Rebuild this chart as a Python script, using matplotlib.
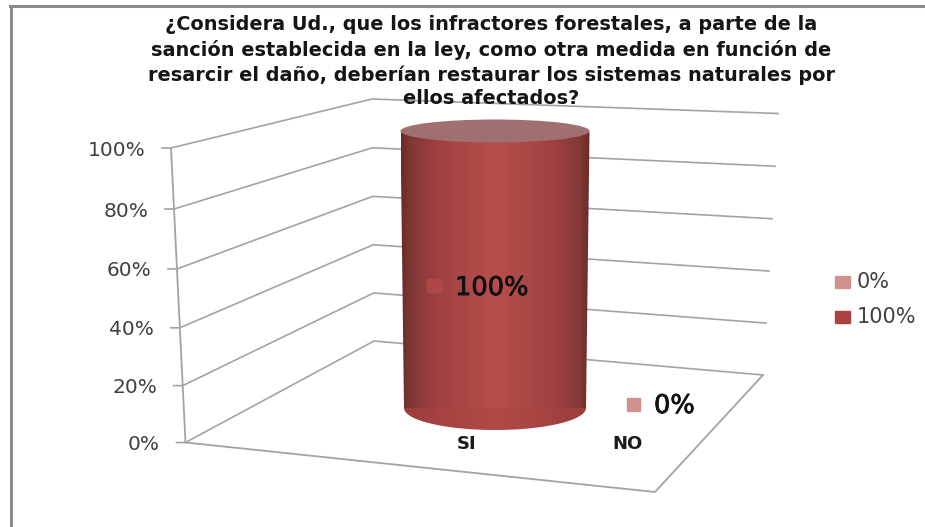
import numpy as np
import matplotlib
matplotlib.use('Agg')
import matplotlib.pyplot as plt
import matplotlib.patheffects as pe
from matplotlib.colors import LinearSegmentedColormap
from matplotlib.patches import Ellipse, PathPatch, Rectangle
from matplotlib.path import Path

categorias = ['SI', 'NO']
valores = [100, 0]
ticks = [0, 20, 40, 60, 80, 100]
leyenda = ['0%', '100%']
titulo = ['¿Considera Ud., que los infractores forestales, a parte de la',
          'sanción establecida en la ley, como otra medida en función de',
          'resarcir el daño, deberían restaurar los sistemas naturales por',
          'ellos afectados?']

GRIS = '#a3a3a3'
OSCURO = '#a8423f'
CLARO = '#d09291'
FUENTE = 'DejaVu Sans'

fig = plt.figure(figsize=(9.25, 5.27), dpi=100)
ax = fig.add_axes([0, 0, 1, 1])
ax.set_xlim(0, 925)
ax.set_ylim(527, 0)
ax.axis('off')


# escala del eje con un poco de perspectiva
def esc(v, a, b, k=0.045):
    t = v / 100
    t = t / (1 + k * (1 - t))
    return a + (b - a) * t


def frente(v):
    return esc(v, 185.5, 171), esc(v, 442.5, 148)


def fondo(v):
    return esc(v, 374, 372, 0.01), esc(v, 341, 99, 0.01)


def derecha(v):
    return esc(v, 763, 778, 0.01), esc(v, 375, 113.5, 0.01)


# marco de la imagen
ax.plot([10.5, 10.5], [6, 527], color='#8c8c8c', lw=2.2)
ax.plot([10, 925], [6, 6], color='#8c8c8c', lw=2.2)

# paredes y rejilla
ax.plot([frente(100)[0], frente(0)[0]], [frente(100)[1], frente(0)[1]], color=GRIS, lw=1.3)
for t in ticks:
    x0, y0 = frente(t)
    x1, y1 = fondo(t)
    x2, y2 = derecha(t)
    ax.plot([x0 - 9, x0, x1, x2], [y0, y0, y1, y2], color=GRIS, lw=1.2)
    ax.text(x0 - 25.5, y0 + 2, f'{t}%', ha='right', va='center', fontsize=14.5,
            family=FUENTE, color='#404040')

# piso
x0, y0 = frente(0)
x2, y2 = derecha(0)
ax.plot([x0, 655, x2], [y0, 492, y2], color=GRIS, lw=1.3)

# cilindro (SI)
xc = 495
yb = 408
alto = 2.77 * valores[0]
yt = yb - alto
a_top, b_top = 94.5, 11.5
a_bot, b_bot = 91, 22

ang = np.linspace(0, np.pi, 60)
lado = PathPatch(Path(np.c_[[xc - a_top, xc - a_bot, xc + a_bot, xc + a_top], [yt + 1, yb, yb, yt + 1]]),
                 facecolor='none', edgecolor='none')
ax.add_patch(lado)
cmap = LinearSegmentedColormap.from_list('cil', [(0, '#642d2c'), (0.05, '#823836'), (0.2, '#9f4240'),
                                                 (0.5, '#b94f4c'), (0.82, '#9c413f'), (0.95, '#823836'),
                                                 (1, '#642d2c')])
img = ax.imshow(np.linspace(0, 1, 256)[None, :], cmap=cmap, aspect='auto',
                extent=[xc - a_top, xc + a_top, yb + 1, yt], zorder=3)
img.set_clip_path(lado)

# base del cilindro, con degradado más suave
base = PathPatch(Path(np.c_[xc + a_bot * np.cos(ang), yb + b_bot * np.sin(ang)]),
                 facecolor='none', edgecolor='none')
ax.add_patch(base)
cmap2 = LinearSegmentedColormap.from_list('base', ['#9a3e3c', '#b24a47', '#9a3e3c'])
img2 = ax.imshow(np.linspace(0, 1, 256)[None, :], cmap=cmap2, aspect='auto',
                 extent=[xc - a_bot, xc + a_bot, yb + b_bot, yb], zorder=3.5)
img2.set_clip_path(base)
ax.set_xlim(0, 925)
ax.set_ylim(527, 0)

ax.add_patch(Ellipse((xc, yt), 2 * a_top, 2 * b_top, facecolor='#a06f6f', edgecolor='none', zorder=4))

# etiquetas de datos
trazo = [pe.withStroke(linewidth=0.6, foreground='#111111')]
ax.add_patch(Rectangle((427, 279), 14, 13, color='#ad4846', zorder=5))
ax.text(455, 288, f'{valores[0]}%', fontsize=18.5, family=FUENTE, va='center',
        color='#111111', zorder=5, path_effects=trazo)
ax.add_patch(Rectangle((627, 398), 13, 13, color=CLARO, zorder=5))
ax.text(654, 406, f'{valores[1]}%', fontsize=18.5, family=FUENTE, va='center',
        color='#111111', zorder=5, path_effects=trazo)

# categorías
for x, c in zip([467, 627], categorias):
    ax.text(x, 444, c, ha='center', va='center', fontsize=13, family=FUENTE, weight='bold', color='#1a1a1a')

# leyenda
for y, lab, col in zip([282, 317], leyenda, [CLARO, OSCURO]):
    ax.add_patch(Rectangle((835, y - 6), 15, 12, color=col))
    ax.text(857, y, lab, va='center', fontsize=15, family=FUENTE, color='#404040')

# título
for y, linea in zip([25, 50, 75, 98], titulo):
    ax.text(491, y, linea, ha='center', va='center', fontsize=13.9, family=FUENTE, weight='bold',
            color='#151515', zorder=6)

fig.savefig('out.png', dpi=100)
